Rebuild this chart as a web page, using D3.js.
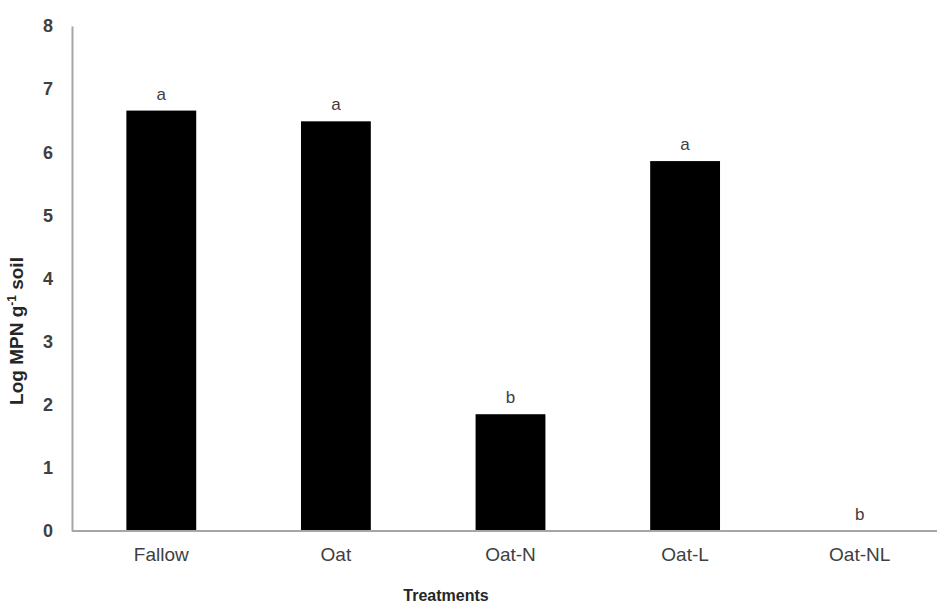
<!DOCTYPE html>
<html>
<head>
<meta charset="utf-8">
<script src="https://cdn.jsdelivr.net/npm/d3@7"></script>
<style>
  html, body { margin: 0; padding: 0; background: #fff; }
  svg { display: block; font-family: "Liberation Sans", Arial, sans-serif; }
</style>
</head>
<body>
<svg id="chart" width="937" height="605"></svg>
<script>
// Treatments and their Log MPN counts per gram of soil
const treatments = ["Fallow", "Oat", "Oat-N", "Oat-L", "Oat-NL"];
const logMPN = [6.66, 6.49, 1.85, 5.86, 0];
const groupLetters = ["a", "a", "b", "a", "b"];
const yTicks = [0, 1, 2, 3, 4, 5, 6, 7, 8];

const svg = d3.select("#chart");
const yTop = 26, yBottom = 531, xLeft = 72;

const x = d3.scaleBand()
  .domain(treatments)
  .range([74, 947])
  .paddingInner(0.6)
  .paddingOuter(0.3);

const y = d3.scaleLinear()
  .domain([0, 8])
  .range([yBottom, yTop]);

// bars
svg.append("g")
  .selectAll("rect")
  .data(treatments)
  .join("rect")
  .attr("x", d => x(d))
  .attr("width", x.bandwidth())
  .attr("y", (d, i) => y(logMPN[i]))
  .attr("height", (d, i) => y(0) - y(logMPN[i]))
  .attr("fill", "#000");

// significance letters above bars
svg.append("g")
  .selectAll("text")
  .data(treatments)
  .join("text")
  .attr("x", d => x(d) + x.bandwidth() / 2)
  .attr("y", (d, i) => y(logMPN[i]) - 11)
  .attr("text-anchor", "middle")
  .attr("font-size", 17)
  .attr("fill", "#404040")
  .text((d, i) => groupLetters[i]);

// y axis
const yAxis = svg.append("g")
  .attr("transform", `translate(${xLeft},0)`)
  .call(d3.axisLeft(y).tickValues(yTicks).tickSize(0).tickPadding(19).tickFormat(d3.format("d")));
yAxis.select(".domain").attr("stroke", "#a6a6a6").attr("stroke-width", 2);
yAxis.selectAll(".tick text")
  .attr("font-size", 18)
  .attr("font-weight", "bold")
  .attr("fill", "#404040")
  .attr("font-family", "Liberation Sans, Arial, sans-serif");

// x axis
const xAxis = svg.append("g")
  .attr("transform", `translate(0,${yBottom})`)
  .call(d3.axisBottom(x).tickSize(0).tickPadding(17));
xAxis.select(".domain").attr("d", `M${xLeft},0H937`).attr("stroke", "#a6a6a6").attr("stroke-width", 2);
xAxis.selectAll(".tick text")
  .attr("font-size", 19)
  .attr("fill", "#404040")
  .attr("font-family", "Liberation Sans, Arial, sans-serif");

// axis titles
svg.append("text")
  .attr("x", 446)
  .attr("y", 601)
  .attr("text-anchor", "middle")
  .attr("font-size", 16)
  .attr("font-weight", "bold")
  .attr("fill", "#262626")
  .text("Treatments");

const yTitle = svg.append("text")
  .attr("transform", "translate(23,331) rotate(-90)")
  .attr("text-anchor", "middle")
  .attr("font-size", 19)
  .attr("font-weight", "bold")
  .attr("fill", "#262626");
yTitle.append("tspan").text("Log MPN g");
yTitle.append("tspan").attr("font-size", 12).attr("dy", -7).text("-1");
yTitle.append("tspan").attr("dy", 7).text(" soil");
</script>
</body>
</html>
